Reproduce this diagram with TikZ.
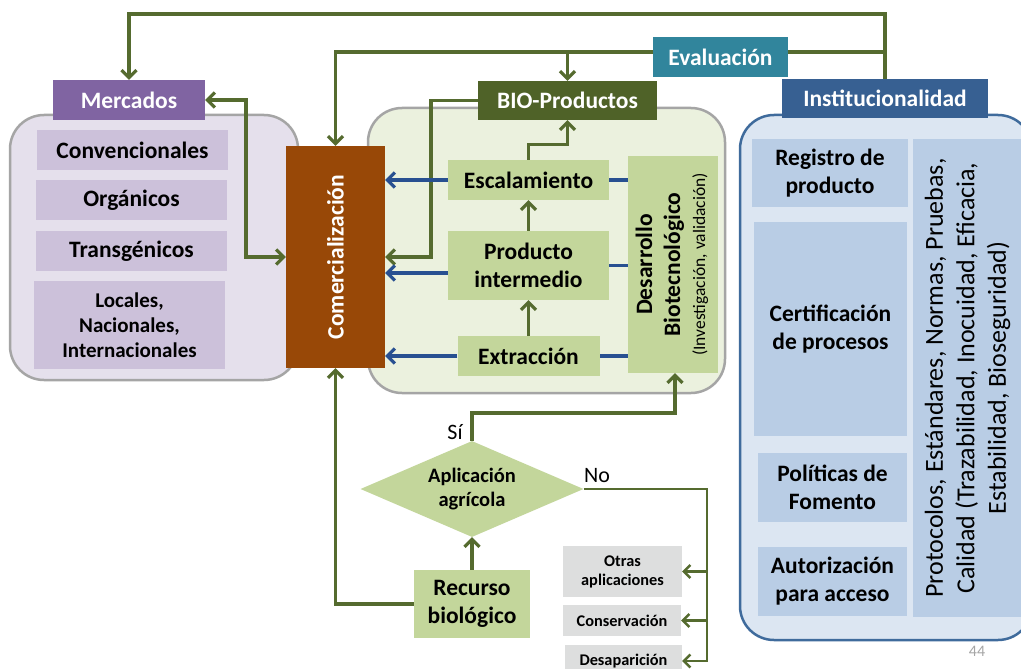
\documentclass[tikz,border=0pt]{standalone}
\usepackage{fontspec}
\setmainfont{Carlito}
\usepackage{graphicx}
\usetikzlibrary{arrows.meta,shapes.geometric}
\definecolor{gcol}{HTML}{556B2F}
\definecolor{bcol}{HTML}{285091}
\definecolor{lgreen}{HTML}{C3D69B}
\definecolor{lgreenbg}{HTML}{EBF1DE}
\definecolor{lpurp}{HTML}{E5E0EC}
\definecolor{ipurp}{HTML}{CCC1DA}
\definecolor{mpurp}{HTML}{8064A2}
\definecolor{brownc}{HTML}{984807}
\definecolor{bioc}{HTML}{4F6228}
\definecolor{tcol}{HTML}{31859C}
\definecolor{instc}{HTML}{376092}
\definecolor{lbluebg}{HTML}{DCE6F2}
\definecolor{rbox}{HTML}{B9CDE5}
\definecolor{pblue}{HTML}{3F6B9C}
\definecolor{gbox}{HTML}{DDDEDE}
\definecolor{pgray}{HTML}{A5A5A5}
\begin{document}
\begin{tikzpicture}[x=1pt,y=-1pt,
  bx/.style={rectangle, inner sep=0pt, align=center, font=\fontsize{23.5}{28}\selectfont\bfseries},
  hdr/.style={bx, text=white},
  gline/.style={draw=gcol, line width=3.2pt},
  garr/.style={gline, -{Straight Barb[length=7.5pt,width=15pt]}},
  garrtwo/.style={gline, {Straight Barb[length=7.5pt,width=15pt]}-{Straight Barb[length=7.5pt,width=15pt]}},
  gthin/.style={draw=gcol, line width=2.5pt},
  garrthin/.style={gthin, -{Straight Barb[length=6.5pt,width=13pt]}},
  bline/.style={draw=bcol, line width=3.2pt},
  barr/.style={bline, -{Straight Barb[length=7.5pt,width=15pt]}},
  panel/.style={line width=2.5pt, rounded corners=34pt},
]
\useasboundingbox (0,0) rectangle (1021,669);
\clip (0,0) rectangle (1021,669);
\fill[white] (0,0) rectangle (1021,669);

% panels
\draw[panel, draw=pgray, fill=lpurp] (10,115) rectangle (298,380);
\draw[panel, draw=pgray, fill=lgreenbg] (368,108) rectangle (725,393);
\draw[panel, draw=pblue, fill=lbluebg] (740,115) rectangle (1032,640);

% left
\node[hdr, fill=mpurp, minimum width=152pt, minimum height=40pt] (mer) at (129,100) {Mercados};
\node[bx, fill=ipurp, minimum width=191pt, minimum height=40pt] (conv) at (132.5,150) {Convencionales};
\node[bx, fill=ipurp, minimum width=191pt, minimum height=40pt] (org) at (131.5,200) {Orgánicos};
\node[bx, fill=ipurp, minimum width=191pt, minimum height=40pt] (trans) at (131.5,251) {Transgénicos};
\node[bx, fill=ipurp, minimum width=191pt, minimum height=88pt, font=\fontsize{21}{25}\selectfont\bfseries] (loc) at (129.5,325) {Locales,\\Nacionales,\\Internacionales};

\node[hdr, fill=brownc, minimum width=99pt, minimum height=222pt] (com) at (335.5,257) {\rotatebox{90}{Comercialización}};

% middle
\node[hdr, fill=bioc, minimum width=179pt, minimum height=39pt] (bio) at (567.5,100.5) {BIO-Productos};
\node[bx, fill=lgreen, minimum width=161pt, minimum height=40pt] (esc) at (528.5,180) {Escalamiento};
\node[bx, fill=lgreen, minimum width=161pt, minimum height=69pt] (prod) at (528.5,265.5) {Producto\\intermedio};
\node[bx, fill=lgreen, minimum width=142pt, minimum height=40pt] (ext) at (528.5,356) {Extracción};
\node[bx, fill=lgreen, minimum width=90pt, minimum height=217pt] (des) at (673,264.5) {\rotatebox{90}{\begin{tabular}{@{}c@{}}Desarrollo\\Biotecnológico\\[-3pt]{\fontsize{17.5}{20}\selectfont\mdseries (Investigación, validación)}\end{tabular}}};

% right
\node[hdr, fill=instc, minimum width=206pt, minimum height=39pt] (inst) at (885,98.5) {Institucionalidad};
\node[bx, fill=rbox, minimum width=156pt, minimum height=68pt] (reg) at (830,173) {Registro de\\producto};
\node[bx, fill=rbox, minimum width=153pt, minimum height=214pt] (cert) at (830.5,329) {Certificación\\de procesos};
\node[bx, fill=rbox, minimum width=149pt, minimum height=69pt] (pol) at (832.5,487.5) {Políticas de\\Fomento};
\node[bx, fill=rbox, minimum width=149pt, minimum height=69pt] (aut) at (832.5,581.5) {Autorización\\para acceso};
\node[bx, fill=rbox, minimum width=110pt, minimum height=478pt, font=\fontsize{26}{31.5}\selectfont] (prot) at (968,378) {\rotatebox{90}{\begin{tabular}{@{}c@{}}Protocolos, Estándares, Normas, Pruebas,\\Calidad (Trazabilidad, Inocuidad, Eficacia,\\Estabilidad, Bioseguridad)\end{tabular}}};

% bottom
\node[diamond, fill=lgreen, inner sep=0pt, aspect=2.32, minimum width=223pt, minimum height=96pt, align=center, font=\fontsize{20.5}{24}\selectfont\bfseries] (dia) at (472,489) {Aplicación\\agrícola};
\node[bx, fill=lgreen, minimum width=116pt, minimum height=68pt] (rec) at (472,604) {Recurso\\biológico};
\node[bx, fill=gbox, minimum width=119pt, minimum height=51pt, font=\fontsize{16.3}{19}\selectfont\bfseries] (otr) at (622.5,571.5) {Otras\\aplicaciones};
\node[bx, fill=gbox, minimum width=118pt, minimum height=31pt, font=\fontsize{16.3}{19}\selectfont\bfseries] (cons) at (622,620.5) {Conservación};
\node[bx, fill=gbox, minimum width=117pt, minimum height=32pt, font=\fontsize{16.3}{19}\selectfont\bfseries] (desap) at (623.5,661) {Desaparición};

\node[font=\fontsize{22}{26}\selectfont] (silbl) at (455,432) {Sí};
\node[font=\fontsize{22}{26}\selectfont] (nolbl) at (597,476) {No};
\node[font=\fontsize{16}{18}\selectfont, text=pgray] (pg) at (977,651) {44};

% connectors
\coordinate (tl) at (129,14);
\coordinate (tr) at (885,14);
\draw[garr] (inst.north) -- (tr) -- (tl) -- (mer.north);
\coordinate (er) at (885,52);
\coordinate (el) at (335.5,52);
\draw[garr] (er) -- (el) -- (com.north);
\draw[garr] (bio.north |- er) -- (bio.north);

\coordinate (dm) at (246,257);
\draw[garrtwo] (mer.east) -| (dm) -- (com.west);
\coordinate (bm) at (431,257);
\draw[garr] (bio.west) -| (bm) -- (com.east);

\draw[garr] (esc.north) -- ++(0,-15) -| (bio.south);
\draw[garr] (prod.north) -- (esc.south);
\draw[garr] (ext.north) -- (prod.south);

\draw[bline] (esc.east -| des.west) -- (esc.east);
\draw[barr] (esc.west) -- (esc.west -| com.east);
\draw[bline] (prod.east -| des.west) -- (prod.east);
\coordinate (pl) at (448,273);
\draw[barr] (pl) -- (pl -| com.east);
\draw[bline] (ext.east -| des.west) -- (ext.east);
\draw[barr] (ext.west) -- (ext.west -| com.east);

\draw[garr] (rec.west) -| (com.south);
\draw[garr] (rec.north) -- (dia.south);
\coordinate (sy) at (675,413);
\draw[garr] (dia.north) |- (sy) -- (sy |- des.south);

\coordinate (nx) at (707,489);
\draw[garrthin] (dia.east) -- (nx) -- (nx |- desap.east) -- (desap.east);
\draw[garrthin] (nx |- otr.east) -- (otr.east);
\draw[garrthin] (nx |- cons.east) -- (cons.east);

\node[hdr, fill=tcol, minimum width=135pt, minimum height=40pt] (eva) at (720.5,57) {Evaluación};
\end{tikzpicture}
\end{document}
